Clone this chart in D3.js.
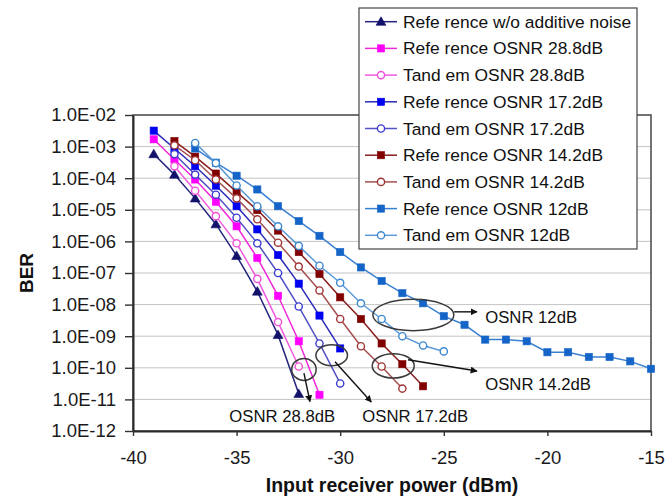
<!DOCTYPE html>
<html>
<head>
<meta charset="utf-8">
<script src="https://cdn.jsdelivr.net/npm/d3@7/dist/d3.min.js"></script>
<style>
  html, body { margin: 0; padding: 0; background: #fff; }
  svg { display: block; font-family: "Liberation Sans", Arial, sans-serif; }
</style>
</head>
<body>
<svg id="chart" width="667" height="497"></svg>
<script>
// ---------------- data ----------------
const xTickValues = [-40, -35, -30, -25, -20, -15];
const yTickValues = [1e-2, 1e-3, 1e-4, 1e-5, 1e-6, 1e-7, 1e-8, 1e-9, 1e-10, 1e-11, 1e-12];
const yTickLabels = ["1.0E-02", "1.0E-03", "1.0E-04", "1.0E-05", "1.0E-06", "1.0E-07",
                     "1.0E-08", "1.0E-09", "1.0E-10", "1.0E-11", "1.0E-12"];

const seriesNames = [
  "Refe rence w/o additive noise",
  "Refe rence OSNR 28.8dB",
  "Tand em OSNR 28.8dB",
  "Refe rence OSNR 17.2dB",
  "Tand em OSNR 17.2dB",
  "Refe rence OSNR 14.2dB",
  "Tand em OSNR 14.2dB",
  "Refe rence OSNR 12dB",
  "Tand em OSNR 12dB"
];

const powerRefNoNoise = [-39, -38, -37, -36, -35, -34, -33, -32];
const berRefNoNoise   = [5.8e-4, 1.3e-4, 2.3e-5, 3.5e-6, 3.5e-7, 2.6e-8, 1.1e-9, 1.5e-11];

const powerRef288 = [-39, -38, -37, -36, -35, -34, -33, -32, -31];
const berRef288   = [1.7e-3, 3.9e-4, 9.1e-5, 1.8e-5, 3.0e-6, 3.0e-7, 1.9e-8, 6.9e-10, 1.4e-11];

const powerTan288 = [-38, -37, -36, -35, -34, -33, -32];
const berTan288   = [2.4e-4, 4.0e-5, 6.3e-6, 8.7e-7, 6.5e-8, 2.8e-9, 1.1e-10];

const powerRef172 = [-39, -38, -37, -36, -35, -34, -33, -32, -31, -30];
const berRef172   = [3.2e-3, 8.7e-4, 2.4e-4, 5.8e-5, 1.3e-5, 2.4e-6, 3.7e-7, 4.6e-8, 4.5e-9, 4.1e-10];

const powerTan172 = [-38, -37, -36, -35, -34, -33, -32, -31, -30];
const berTan172   = [5.8e-4, 1.3e-4, 3.0e-5, 5.6e-6, 8.7e-7, 1.0e-7, 8.7e-9, 5.9e-10, 3.2e-11];

const powerRef142 = [-38, -37, -36, -35, -34, -33, -32, -31, -30, -29, -28, -27, -26];
const berRef142   = [1.5e-3, 4.8e-4, 1.4e-4, 3.7e-5, 9.8e-6, 2.2e-6, 4.6e-7, 9.3e-8, 1.7e-8, 3.5e-9, 5.9e-10, 1.3e-10, 2.6e-11];

const powerTan142 = [-38, -37, -36, -35, -34, -33, -32, -31, -30, -29, -28, -27];
const berTan142   = [1.1e-3, 3.7e-4, 9.1e-5, 2.3e-5, 5.0e-6, 9.1e-7, 1.6e-7, 2.8e-8, 3.5e-9, 4.8e-10, 1.1e-10, 2.2e-11];

const powerRef12 = [-37, -36, -35, -34, -33, -32, -31, -30, -29, -28, -27, -26, -25,
                    -24, -23, -22, -21, -20, -19, -18, -17, -16, -15];
const berRef12   = [8.7e-4, 3.1e-4, 1.2e-4, 4.4e-5, 1.3e-5, 4.4e-6, 1.5e-6, 4.6e-7, 1.5e-7, 5.6e-8, 2.3e-8, 1.1e-8, 4.3e-9,
                    2.3e-9, 7.8e-10, 7.8e-10, 6.9e-10, 3.1e-10, 3.1e-10, 2.2e-10, 2.2e-10, 1.6e-10, 9.3e-11];

const powerTan12 = [-37, -36, -35, -34, -33, -32, -31, -30, -29, -28, -27, -26, -25];
const berTan12   = [1.3e-3, 3.0e-4, 5.9e-5, 1.3e-5, 3.0e-6, 7.2e-7, 1.7e-7, 4.9e-8, 1.1e-8, 3.5e-9, 1.0e-9, 5.1e-10, 3.3e-10];

// annotations (data space: power dBm, BER)
const annotationLabels = ["OSNR 12dB", "OSNR 14.2dB", "OSNR 17.2dB", "OSNR 28.8dB"];
const ellipseCenters = [[-26.47, 4.7e-9], [-27.44, 1.15e-10], [-30.41, 2.5e-10], [-31.75, 8.9e-11]];
const arrowStarts = [[-24.5, 5.9e-9], [-26.73, 1.8e-10], [-30.25, 1.55e-10], [-31.75, 6.8e-11]];
const arrowEnds   = [[-23.4, 5.9e-9], [-23.4, 7.9e-11], [-28.5, 8.3e-12], [-31.46, 8.5e-12]];
const labelAnchors = [[-23.0, 4.1e-9], [-23.0, 3.1e-11], [-28.93, 2.9e-12], [-35.35, 2.9e-12]];

// ---------------- styles ----------------
const seriesStyle = [
  { line: "#24247e", fill: "#12126a", stroke: "#12126a", shape: "triangle" },
  { line: "#f028d8", fill: "#ff00ff", stroke: "#ff00ff", shape: "square" },
  { line: "#f25ade", fill: "#ffffff", stroke: "#f050d8", shape: "circle" },
  { line: "#2a2ab8", fill: "#0000f0", stroke: "#0000f0", shape: "square" },
  { line: "#5252c6", fill: "#ffffff", stroke: "#3a3ad0", shape: "circle" },
  { line: "#8a1e1e", fill: "#800000", stroke: "#800000", shape: "square" },
  { line: "#a45050", fill: "#ffffff", stroke: "#a03434", shape: "circle" },
  { line: "#3a80d2", fill: "#1565c8", stroke: "#1565c8", shape: "square" },
  { line: "#5c9ad8", fill: "#ffffff", stroke: "#3c88d0", shape: "circle" }
];

const seriesData = [
  [powerRefNoNoise, berRefNoNoise],
  [powerRef288, berRef288],
  [powerTan288, berTan288],
  [powerRef172, berRef172],
  [powerTan172, berTan172],
  [powerRef142, berRef142],
  [powerTan142, berTan142],
  [powerRef12, berRef12],
  [powerTan12, berTan12]
].map(([xs, ys], i) => ({ name: seriesNames[i], style: seriesStyle[i],
  points: xs.map((x, j) => ({ x, y: ys[j] })) }));

// ---------------- layout ----------------
const plot = { left: 133, right: 651, top: 115, bottom: 431 };
const svg = d3.select("#chart");

const x = d3.scaleLinear().domain([-40, -15]).range([plot.left, plot.right]);
const y = d3.scaleLog().domain([1e-12, 1e-2]).range([plot.bottom, plot.top]);

// gridlines
svg.append("g").selectAll("line")
  .data(yTickValues.slice(1, -1))
  .join("line")
  .attr("x1", plot.left).attr("x2", plot.right)
  .attr("y1", d => y(d)).attr("y2", d => y(d))
  .attr("stroke", "#c4c4c4").attr("stroke-width", 1);

// frame
svg.append("rect")
  .attr("x", plot.left).attr("y", plot.top)
  .attr("width", plot.right - plot.left).attr("height", plot.bottom - plot.top)
  .attr("fill", "none").attr("stroke", "#444").attr("stroke-width", 1.5);

// axes
const yAxis = d3.axisLeft(y).tickValues(yTickValues)
  .tickFormat((d, i) => yTickLabels[i]).tickSize(8).tickPadding(9).tickSizeOuter(0);
const gy = svg.append("g").attr("transform", `translate(${plot.left},0)`).call(yAxis);

const xAxis = d3.axisBottom(x).tickValues(xTickValues)
  .tickFormat(d3.format("d")).tickSize(5).tickPadding(15).tickSizeOuter(0);
const gx = svg.append("g").attr("transform", `translate(0,${plot.bottom})`).call(xAxis);

[gx, gy].forEach(g => {
  g.select(".domain").attr("stroke", "#2a2a2a").attr("stroke-width", 2);
  g.selectAll(".tick line").attr("stroke", "#333").attr("stroke-width", 1.4);
  g.selectAll(".tick text").attr("fill", "#1a1a1a")
    .style("font-size", "18.5px").style("font-family", "'Liberation Sans', Arial, sans-serif");
});
gx.selectAll(".tick text").text(d => d3.format("d")(d).replace("−", "-"));

// axis titles
svg.append("text")
  .attr("x", (plot.left + plot.right) / 2).attr("y", 492)
  .attr("text-anchor", "middle").attr("font-weight", "bold")
  .attr("font-size", 19.5).attr("fill", "#111")
  .text("Input receiver power (dBm)");

svg.append("text")
  .attr("transform", `translate(33,${(plot.top + plot.bottom) / 2}) rotate(-90)`)
  .attr("text-anchor", "middle").attr("font-weight", "bold")
  .attr("font-size", 19).attr("fill", "#111")
  .text("BER");

// series
const line = d3.line().x(d => x(d.x)).y(d => y(d.y));
const symTri = d3.symbol().type(d3.symbolTriangle).size(42);

function drawMarker(g, style, cx, cy) {
  if (style.shape === "square") {
    g.append("rect").attr("x", cx - 3.6).attr("y", cy - 3.6).attr("width", 7.2).attr("height", 7.2)
      .attr("fill", style.fill).attr("stroke", style.stroke).attr("stroke-width", 0.6);
  } else if (style.shape === "circle") {
    g.append("circle").attr("cx", cx).attr("cy", cy).attr("r", 3.6)
      .attr("fill", style.fill).attr("stroke", style.stroke).attr("stroke-width", 1.4);
  } else {
    g.append("path").attr("d", symTri()).attr("transform", `translate(${cx},${cy + 0.8})`)
      .attr("fill", style.fill).attr("stroke", style.stroke).attr("stroke-width", 0.6);
  }
}

const gSeries = svg.append("g");
seriesData.forEach(s => {
  const g = gSeries.append("g");
  g.append("path").datum(s.points).attr("d", line)
    .attr("fill", "none").attr("stroke", s.style.line).attr("stroke-width", 1.5);
  s.points.forEach(p => drawMarker(g, s.style, x(p.x), y(p.y)));
});

// annotations
const defs = svg.append("defs");
defs.append("marker").attr("id", "arrow").attr("viewBox", "0 0 10 10")
  .attr("refX", 9).attr("refY", 5).attr("markerWidth", 7).attr("markerHeight", 7)
  .attr("markerUnits", "userSpaceOnUse").attr("orient", "auto")
  .append("path").attr("d", "M0,0 L10,5 L0,10 z").attr("fill", "#111");

const ellipseRadii = [[40.5, 15.7], [21, 12.2], [15.8, 10.5], [12.2, 11]];
const gAnn = svg.append("g");
annotationLabels.forEach((label, i) => {
  gAnn.append("ellipse")
    .attr("cx", x(ellipseCenters[i][0])).attr("cy", y(ellipseCenters[i][1]))
    .attr("rx", ellipseRadii[i][0]).attr("ry", ellipseRadii[i][1])
    .attr("fill", "none").attr("stroke", "#3a3a3a").attr("stroke-width", 1.5);
  gAnn.append("line")
    .attr("x1", x(arrowStarts[i][0])).attr("y1", y(arrowStarts[i][1]))
    .attr("x2", x(arrowEnds[i][0])).attr("y2", y(arrowEnds[i][1]))
    .attr("stroke", "#111").attr("stroke-width", 1.4).attr("marker-end", "url(#arrow)");
  gAnn.append("text")
    .attr("x", x(labelAnchors[i][0])).attr("y", y(labelAnchors[i][1]))
    .attr("dy", "0.35em").attr("font-size", 16.7).attr("fill", "#111")
    .text(label);
});

// legend
const legend = { x: 359, y: 8, w: 278, h: 241, rowH: 26.7, firstRow: 21.7 };
const gLeg = svg.append("g");
gLeg.append("rect").attr("x", legend.x).attr("y", legend.y)
  .attr("width", legend.w).attr("height", legend.h)
  .attr("fill", "#fff").attr("stroke", "#444").attr("stroke-width", 1.2);
seriesData.forEach((s, i) => {
  const cy = legend.firstRow + i * legend.rowH;
  const g = gLeg.append("g");
  g.append("line").attr("x1", 365).attr("x2", 397).attr("y1", cy).attr("y2", cy)
    .attr("stroke", s.style.line).attr("stroke-width", 1.5);
  drawMarker(g, s.style, 381, cy);
  g.append("text").attr("x", 403).attr("y", cy).attr("dy", "0.35em")
    .attr("font-size", 17.4).attr("fill", "#111").text(s.name);
});
</script>
</body>
</html>
